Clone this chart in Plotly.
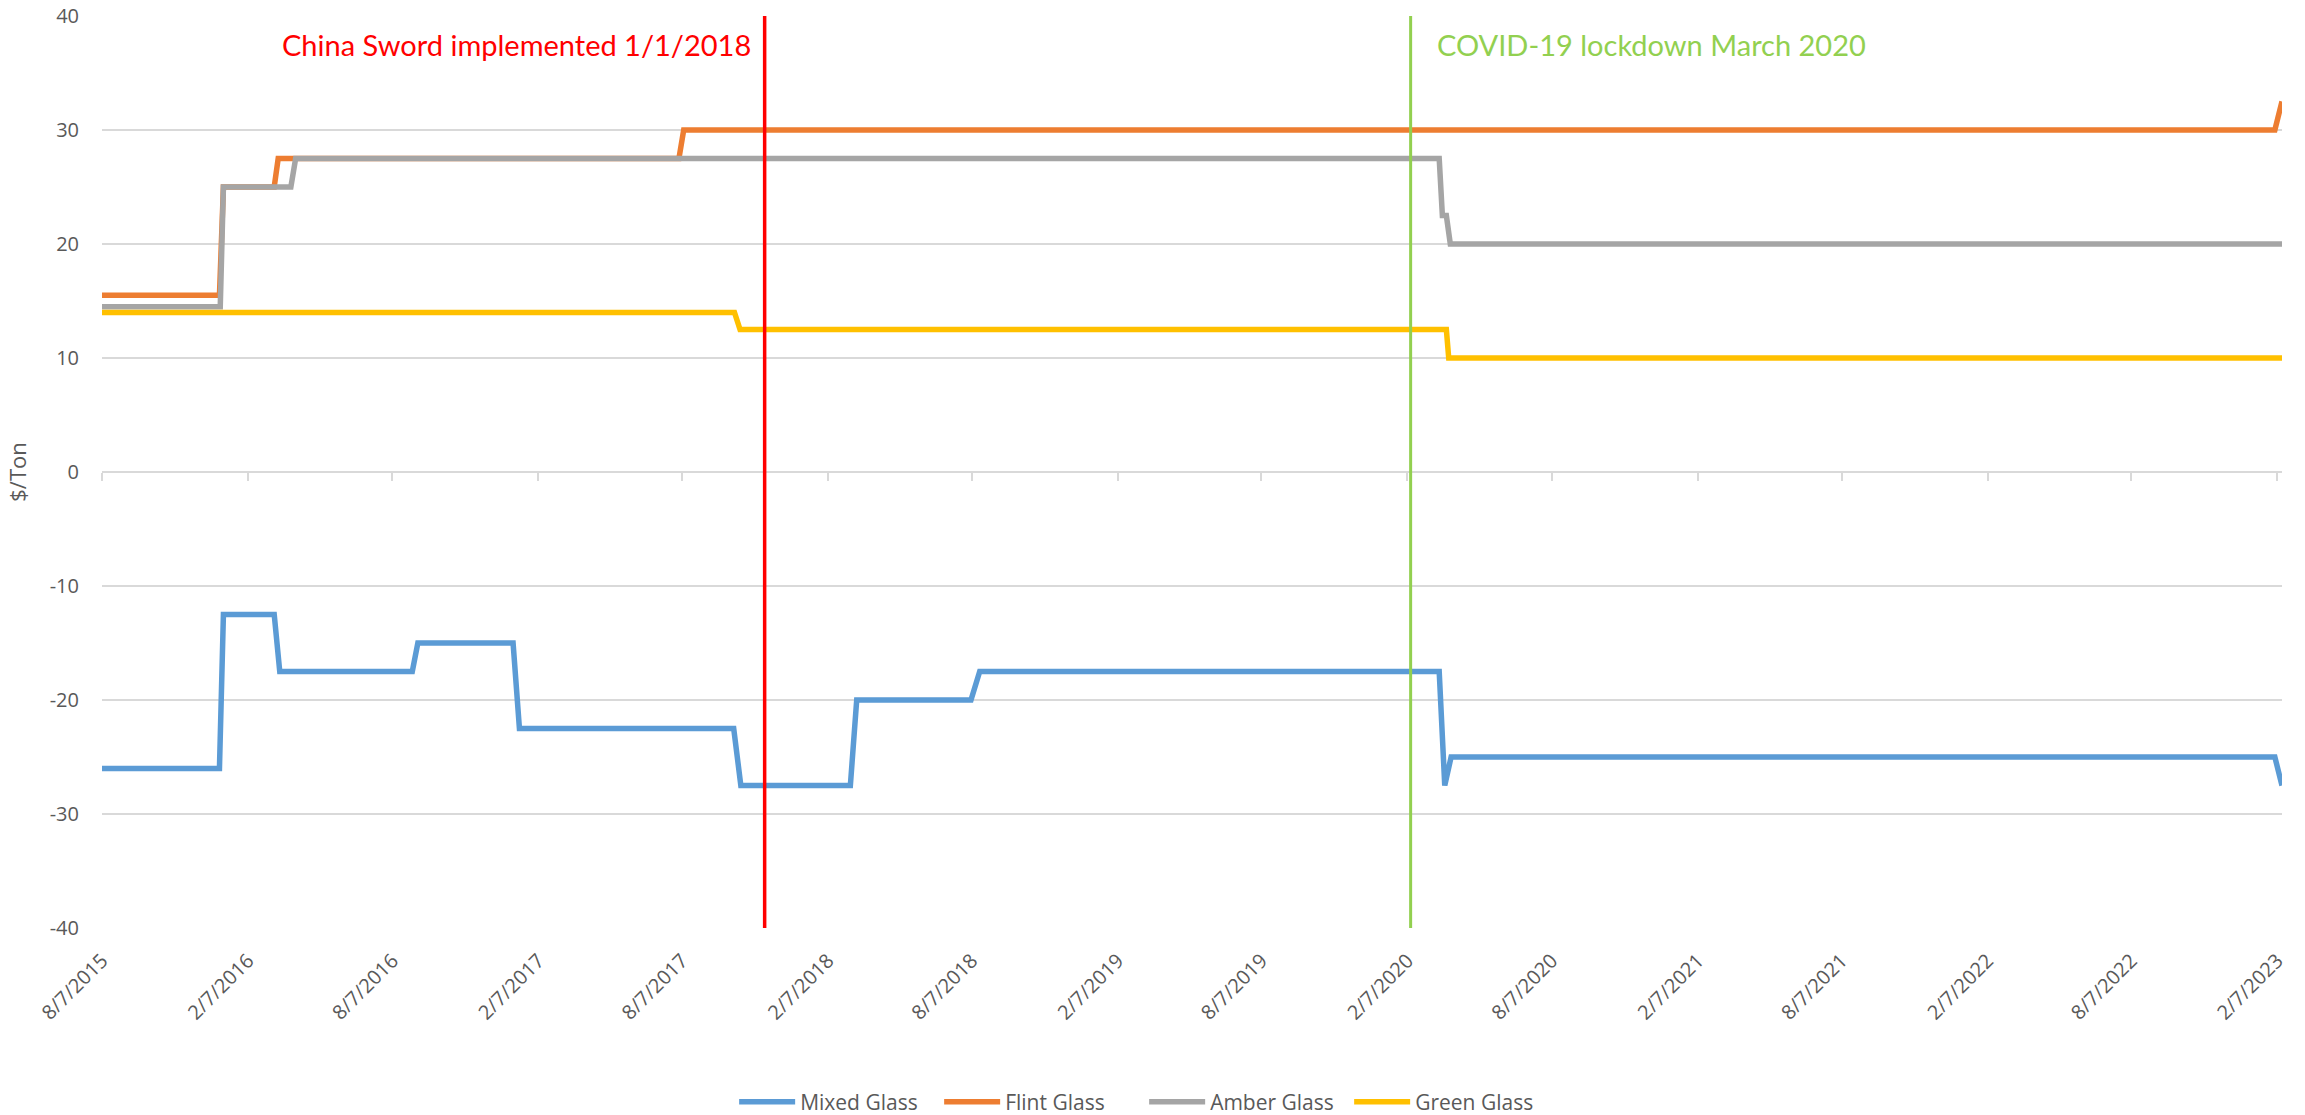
import plotly.graph_objects as go

# ---- data ----
mixed_dates = ["2015-08-07", "2016-01-02", "2016-01-07", "2016-03-11", "2016-03-18",
               "2016-09-01", "2016-09-08", "2017-01-06", "2017-01-14", "2017-10-11",
               "2017-10-20", "2018-03-07", "2018-03-15", "2018-08-06", "2018-08-17",
               "2020-03-18", "2020-03-25", "2020-04-02", "2023-02-04", "2023-02-13"]
mixed_vals = [-26, -26, -12.5, -12.5, -17.5, -17.5, -15, -15, -22.5, -22.5,
              -27.5, -27.5, -20, -20, -17.5, -17.5, -27.5, -25, -25, -27.5]

flint_dates = ["2015-08-07", "2016-01-02", "2016-01-07", "2016-03-11", "2016-03-16",
               "2017-08-03", "2017-08-09", "2023-02-04", "2023-02-13"]
flint_vals = [15.5, 15.5, 25, 25, 27.5, 27.5, 30, 30, 32.5]

amber_dates = ["2015-08-07", "2016-01-03", "2016-01-07", "2016-04-01", "2016-04-07",
               "2020-03-18", "2020-03-22", "2020-03-27", "2020-04-01", "2023-02-13"]
amber_vals = [14.5, 14.5, 25, 25, 27.5, 27.5, 22.5, 22.5, 20, 20]

green_dates = ["2015-08-07", "2017-10-12", "2017-10-19", "2020-03-27", "2020-03-30", "2023-02-13"]
green_vals = [14, 14, 12.5, 12.5, 10, 10]

series_names = ["Mixed Glass", "Flint Glass", "Amber Glass", "Green Glass"]
series_colors = ["#5B9BD5", "#ED7D31", "#A5A5A5", "#FFC000"]

tick_dates = ["2015-08-07", "2016-02-07", "2016-08-07", "2017-02-07", "2017-08-07",
              "2018-02-07", "2018-08-07", "2019-02-07", "2019-08-07", "2020-02-07",
              "2020-08-07", "2021-02-07", "2021-08-07", "2022-02-07", "2022-08-07",
              "2023-02-07"]
tick_labels = ["8/7/2015", "2/7/2016", "8/7/2016", "2/7/2017", "8/7/2017",
               "2/7/2018", "8/7/2018", "2/7/2019", "8/7/2019", "2/7/2020",
               "8/7/2020", "2/7/2021", "8/7/2021", "2/7/2022", "8/7/2022",
               "2/7/2023"]
x_range = ["2015-08-07", "2023-02-13"]

y_ticks = [-40, -30, -20, -10, 0, 10, 20, 30, 40]
y_tick_labels = ["-40", "-30", "-20", "-10", "0", "10", "20", "30", "40"]

event_dates = ["2017-11-19", "2020-02-11"]
event_labels = ["China Sword implemented 1/1/2018", "COVID-19 lockdown March 2020"]
event_colors = ["#FF0000", "#92D050"]

# ---- figure ----
fig = go.Figure()
all_dates = [mixed_dates, flint_dates, amber_dates, green_dates]
all_vals = [mixed_vals, flint_vals, amber_vals, green_vals]
for name, color, d, v in zip(series_names, series_colors, all_dates, all_vals):
    fig.add_trace(go.Scatter(x=d, y=v, mode="lines", name=name,
                             line=dict(color=color, width=5.5, shape="linear"),
                             hoverinfo="x+y+name"))

# invisible trace so the zero-crossing axis (x2) is drawn
fig.add_trace(go.Scatter(x=x_range, y=[0, 0], xaxis="x2", mode="lines",
                         line=dict(width=0, color="rgba(0,0,0,0)"),
                         showlegend=False, hoverinfo="skip"))

# event lines & labels
for d, lab, col, side in zip(event_dates, event_labels, event_colors, ["right", "left"]):
    fig.add_shape(type="line", xref="x", yref="y", x0=d, x1=d, y0=-40, y1=40,
                  line=dict(color=col, width=3.5 if side == "right" else 3))
    fig.add_annotation(x=d, y=37.5, xref="x", yref="y", text=lab, showarrow=False,
                       xanchor=side, yanchor="middle",
                       xshift=-12 if side == "right" else 24,
                       font=dict(family="Lato", size=29, color=col))

tick_font = dict(family="Open Sans", size=20, color="#595959")

fig.update_layout(
    width=2305, height=1115,
    paper_bgcolor="white", plot_bgcolor="white",
    margin=dict(l=102, r=23, t=16, b=187, autoexpand=False),
    font=tick_font,
    xaxis=dict(type="date", range=x_range, tickvals=tick_dates, ticktext=tick_labels,
               tickangle=-45, showgrid=False, showline=False, zeroline=False,
               ticks="", tickfont=tick_font, ticklabelstandoff=16, automargin=False),
    xaxis2=dict(type="date", range=x_range, overlaying="x", anchor="free", position=0.5,
                tickvals=tick_dates, showticklabels=False, ticks="outside", ticklen=8,
                tickwidth=1.5, tickcolor="#D9D9D9", showline=True, linecolor="#D9D9D9",
                linewidth=1.5, showgrid=False, zeroline=False, automargin=False),
    yaxis=dict(range=[-40, 40], tickvals=y_ticks, ticktext=y_tick_labels,
               showgrid=True, gridcolor="#D9D9D9",
               gridwidth=1.5, zeroline=False, showline=False, ticks="",
               tickfont=tick_font, ticklabelstandoff=22, automargin=False,
               title=dict(text="$/Ton", font=dict(family="Open Sans", size=22, color="#595959"),
                          standoff=16)),
    legend=dict(orientation="h", xref="container", yref="container", x=0.3185, y=0.03,
                xanchor="left", yanchor="top",
                font=dict(family="Open Sans", size=21, color="#595959"), itemwidth=56,
                entrywidth=134, bgcolor="rgba(0,0,0,0)"),
    hovermode="closest",
)

fig.write_html("out.html", post_script="document.body.style.margin='0';",
               config={"displayModeBar": False})
